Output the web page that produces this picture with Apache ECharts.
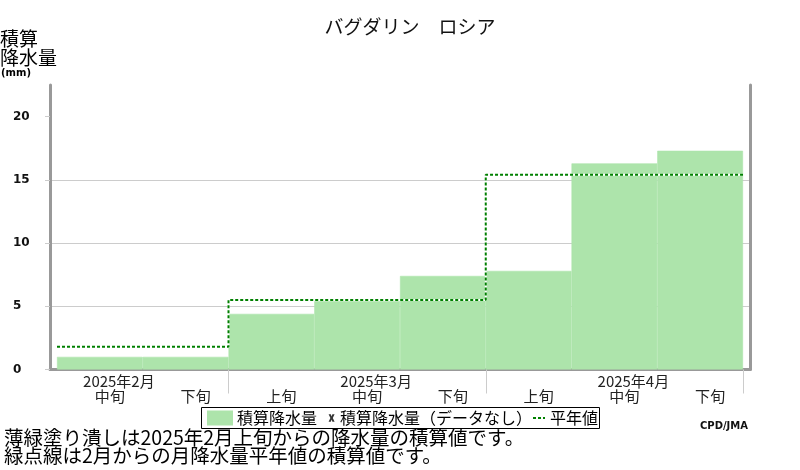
<!DOCTYPE html>
<html>
<head>
<meta charset="UTF-8">
<title>積算降水量</title>
<script src="https://cdn.jsdelivr.net/npm/echarts@6/dist/echarts.min.js"></script>
<style>
    html, body { margin: 0; padding: 0; background: #fff; }
    #main { width: 800px; height: 470px; }
</style>
</head>
<body>
<div id="main"></div>
<script>
// 旬の区分と月
var dekads = ['中旬', '下旬', '上旬', '中旬', '下旬', '上旬', '中旬', '下旬'];
var dekadMonths = ['2025年2月', '2025年2月', '2025年3月', '2025年3月', '2025年3月', '2025年4月', '2025年4月', '2025年4月'];
// 積算降水量 (mm)
var accumValues = [1.0, 1.0, 4.4, 5.4, 7.4, 7.8, 16.3, 17.3];
// 平年値の積算 (mm)
var normalValues = [1.8, 1.8, 5.5, 5.5, 5.5, 15.4, 15.4, 15.4];
// 縦軸
var yTicks = [0, 5, 10, 15, 20];
var yMax = 22.5;

var JP = '"Noto Sans CJK JP", sans-serif';

// 平年値は旬の幅いっぱいの階段線にする
var normalLine = [];
for (var i = 0; i < normalValues.length; i++) {
    normalLine.push([i, normalValues[i]]);
    normalLine.push([i + 1, normalValues[i]]);
}

// X 印のアイコン（M0,0 と M12,13 で枠の大きさを決める）
var xIcon = 'path://M0,0M12,13M5.6,2.8L7.8,2.8L8.6,5L9.4,2.8L11.6,2.8L9.8,6.5L11.6,10.2L9.4,10.2L8.6,8L7.8,10.2L5.6,10.2L7.4,6.5Z';

var chart = echarts.init(document.getElementById('main'));
chart.setOption({
    animation: false,
    title: [
        {
            text: 'バグダリン　ロシア',
            left: 405, top: 12, textAlign: 'center',
            textStyle: {fontFamily: JP, fontSize: 19, fontWeight: 'normal', color: '#111'}
        },
        {
            text: '積算\n降水量',
            left: 0, top: 29, padding: 0,
            textStyle: {fontFamily: JP, fontSize: 19, fontWeight: 'normal', color: '#000', lineHeight: 19}
        },
        {
            text: '(mm)',
            left: 1, top: 68, padding: 0,
            textStyle: {fontFamily: 'DejaVu Sans', fontSize: 10, fontWeight: 'bold', color: '#000'}
        },
        {
            text: 'CPD/JMA',
            right: 52, top: 421, padding: 0,
            textStyle: {fontFamily: 'DejaVu Sans', fontSize: 10, fontWeight: 'bold', color: '#111'}
        },
        {
            text: '薄緑塗り潰しは2025年2月上旬からの降水量の積算値です。\n緑点線は2月からの月降水量平年値の積算値です。',
            left: 4, top: 429, padding: 0,
            textStyle: {fontFamily: JP, fontSize: 19.5, fontWeight: 'normal', color: '#000', lineHeight: 17.5}
        }
    ],
    legend: [
        {
            data: [{name: '積算降水量', icon: 'rect'}],
            left: 207, top: 410, padding: 0, itemGap: 0,
            itemWidth: 24, itemHeight: 13,
            selectedMode: false,
            textStyle: {fontFamily: JP, fontSize: 16, color: '#000'}
        },
        {
            data: [
                {name: '積算降水量（データなし）', icon: xIcon, itemStyle: {color: '#000'}},
                {name: '平年値', itemStyle: {opacity: 0}}
            ],
            left: 323, top: 410, padding: 0, itemGap: 0,
            itemWidth: 12, itemHeight: 13,
            selectedMode: false,
            textStyle: {fontFamily: JP, fontSize: 16, color: '#000'}
        }
    ],
    graphic: [{
        type: 'rect',
        shape: {x: 201.5, y: 407.5, width: 398, height: 21},
        style: {fill: 'none', stroke: '#000', lineWidth: 1}
    }],
    grid: [
        {left: 50, right: 50, top: 85, bottom: 100.5},
        {left: 57, right: 57, top: 85, bottom: 100.5}
    ],
    xAxis: [
        {
            gridIndex: 0, type: 'value', min: 0, max: 1, offset: 2,
            axisLine: {lineStyle: {color: '#999', width: 3}},
            axisTick: {show: false}, axisLabel: {show: false}, splitLine: {show: false}
        },
        {
            gridIndex: 1, type: 'category', data: dekads, boundaryGap: true,
            axisLine: {show: false},
            axisTick: {
                show: true, length: 24, lineStyle: {color: '#ccc', width: 1},
                interval: function (idx) { return idx > 0 && dekadMonths[idx] !== dekadMonths[idx - 1]; }
            },
            axisLabel: {
                interval: 0, margin: 4,
                formatter: function (val, idx) {
                    var m = val === '中旬' ? dekadMonths[idx] : ' ';
                    return '{m|' + m + '}\n{d|' + val + '}';
                },
                rich: {
                    m: {fontFamily: JP, fontSize: 15, color: '#222', lineHeight: 15, padding: [0, 0, 0, 38]},
                    d: {fontFamily: JP, fontSize: 15, color: '#222', lineHeight: 15, padding: [0, 0, 0, 20]}
                }
            },
            splitLine: {show: false}
        },
        {
            gridIndex: 1, type: 'value', min: 0, max: dekads.length, show: false
        }
    ],
    yAxis: [
        {
            gridIndex: 0, type: 'value', min: 0, max: yMax, interval: 5,
            axisLine: {show: true, lineStyle: {color: '#999', width: 3}},
            axisTick: {show: true, length: 5, customValues: yTicks, lineStyle: {color: '#ccc'}},
            axisLabel: {
                customValues: yTicks, align: 'left', margin: 37,
                fontFamily: 'DejaVu Sans', fontSize: 12, fontWeight: 'bold', color: '#111'
            },
            splitLine: {show: true, showMaxLine: false, lineStyle: {color: '#ccc', width: 1}}
        },
        {
            gridIndex: 0, type: 'value', min: 0, max: yMax, position: 'right',
            axisLine: {show: true, lineStyle: {color: '#999', width: 3}},
            axisTick: {show: false}, axisLabel: {show: false}, splitLine: {show: false}
        },
        {
            gridIndex: 1, type: 'value', min: 0, max: yMax, show: false
        }
    ],
    series: [
        {
            name: '積算降水量', type: 'bar', xAxisIndex: 1, yAxisIndex: 2,
            data: accumValues, barCategoryGap: '0%',
            itemStyle: {color: '#ade4ab', borderColor: '#ade4ab', borderWidth: 0.6}, z: 2
        },
        {
            name: '積算降水量（データなし）', type: 'scatter', xAxisIndex: 2, yAxisIndex: 2,
            data: [], itemStyle: {color: '#000'}
        },
        {
            name: '平年値下地', type: 'line', xAxisIndex: 2, yAxisIndex: 2,
            data: normalLine, symbol: 'none', silent: true,
            lineStyle: {color: '#fff', width: 2, type: 'solid'}, z: 3
        },
        {
            name: '平年値', type: 'line', xAxisIndex: 2, yAxisIndex: 2,
            data: normalLine, symbol: 'none',
            itemStyle: {color: '#008000'},
            lineStyle: {color: '#008000', width: 2, type: [3, 2]}, z: 4
        }
    ]
});
</script>
</body>
</html>
